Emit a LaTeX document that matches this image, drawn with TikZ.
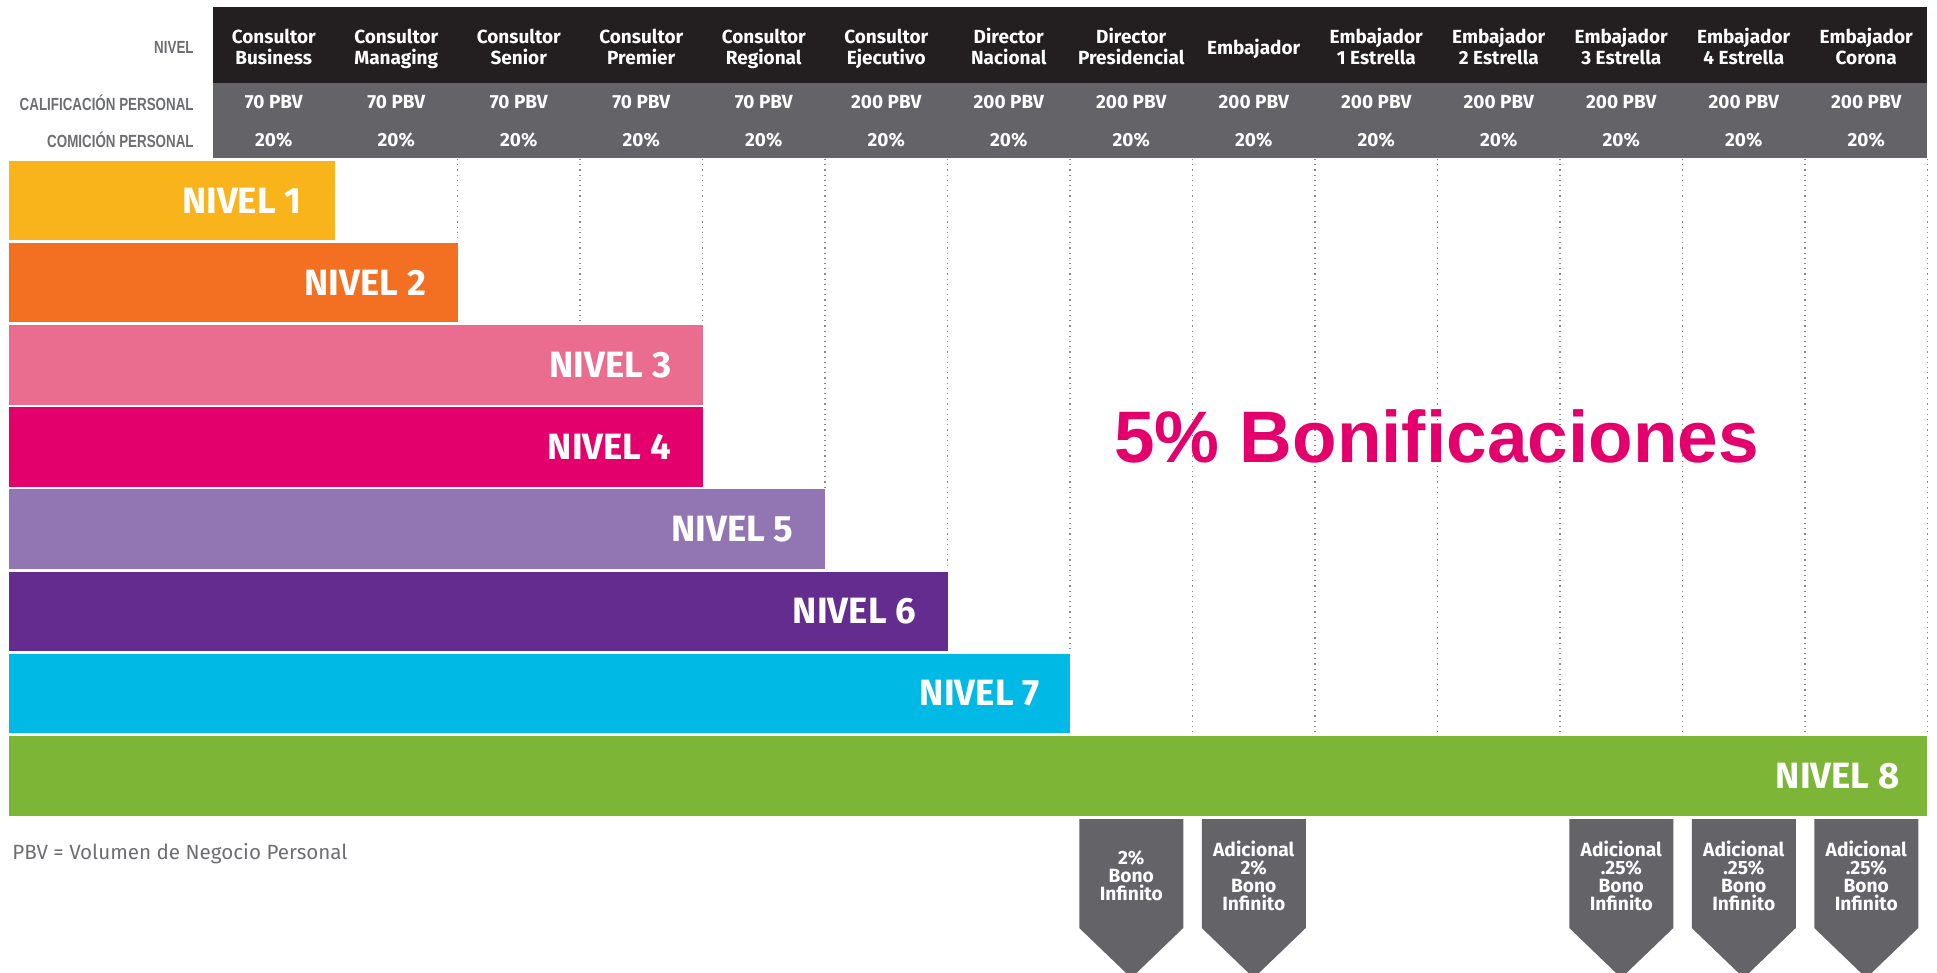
\documentclass[tikz,border=0pt]{standalone}
\usepackage{fontspec}
\setmainfont{Fira Sans}
\newfontfamily\condfont{Liberation Sans}[FakeStretch=0.76]
\newfontfamily\bigfont{Liberation Sans}
\definecolor{hdark}{HTML}{231F20}
\definecolor{hgray}{HTML}{636368}
\definecolor{lblgray}{HTML}{6D6E71}
\definecolor{cA}{HTML}{F9B31B}
\definecolor{cB}{HTML}{F37022}
\definecolor{cC}{HTML}{EA6D8F}
\definecolor{cD}{HTML}{E3006C}
\definecolor{cE}{HTML}{9276B3}
\definecolor{cF}{HTML}{652C90}
\definecolor{cG}{HTML}{00B9E5}
\definecolor{cH}{HTML}{7DB537}
\definecolor{grid}{HTML}{8A8A8A}
\tikzset{
  hdrtext/.style={text=white,font=\bfseries\fontsize{9.5}{10.5}\selectfont,align=center,inner sep=0pt},
  rowlabel/.style={text=lblgray,font=\condfont\bfseries\fontsize{8.8}{10}\selectfont,anchor=east,inner sep=0pt},
  barlabel/.style={text=white,font=\bfseries\fontsize{18.3}{19}\selectfont,anchor=east,inner sep=0pt},
  badgetext/.style={text=white,font=\bfseries\fontsize{9.6}{9.1}\selectfont,align=center,inner sep=0pt},
  gridline/.style={grid,dotted,line width=0.6pt},
}
\begin{document}
\begin{tikzpicture}[x=0.5pt,y=-0.5pt]
\useasboundingbox (0,0) rectangle (1937,973);
% header backgrounds
\fill[hdark] (212.5,7.4) rectangle (1927,82.7);
\fill[hgray] (212.5,82.7) rectangle (1927,158.3);
% row labels
\node[rowlabel] (lnivel) at (194,47) {NIVEL};
\node[rowlabel] (lcalif) at (194,102.5) {CALIFICACIÓN PERSONAL};
\node[rowlabel] (lcomi) at (194,139.6) {COMICIÓN PERSONAL};
% header columns
\foreach \t [count=\i] in {{Consultor\\Business},{Consultor\\Managing},{Consultor\\Senior},{Consultor\\Premier},{Consultor\\Regional},{Consultor\\Ejecutivo},{Director\\Nacional},{Director\\Presidencial},{Embajador},{Embajador\\1 Estrella},{Embajador\\2 Estrella},{Embajador\\3 Estrella},{Embajador\\4 Estrella},{Embajador\\Corona}}{
  \pgfmathsetmacro{\cx}{212.5+(\i-0.5)*122.5}
  \node[hdrtext] (h\i) at (\cx,48.5) {\t\vphantom{g}};
}
\foreach \i in {1,...,14}{
  \pgfmathsetmacro{\cx}{212.5+(\i-0.5)*122.5}
  \pgfmathtruncatemacro{\pbv}{\i<6 ? 70 : 200}
  \node[hdrtext] (p\i) at (\cx,102.5) {\pbv{} PBV};
  \node[hdrtext] (c\i) at (\cx,139.6) {20\%};
}
% dotted grid lines (each stops just above the first bar reaching it)
\foreach \j/\s in {2/241,3/323,4/323,5/487,6/569,7/651,8/734,9/734,10/734,11/734,12/734,13/734,14/734}{
  \pgfmathsetmacro{\gx}{212.5+\j*122.5}
  \draw[gridline] (\gx,159) -- (\gx,\s);
}
% bars
\foreach \i/\r/\c/\p in {1/335/cA/33,2/457.5/cB/31,3/702.5/cC/31,4/702.5/cD/31,5/825/cE/31,6/947.5/cF/31,7/1070/cG/30,8/1927/cH/27}{
  \pgfmathsetmacro{\bt}{160.6+(\i-1)*82.2}
  \pgfmathsetmacro{\bb}{\bt+79.6}
  \pgfmathsetmacro{\bm}{\bt+39.8}
  \pgfmathsetmacro{\lx}{\r-\p}
  \fill[\c] (8.6,\bt) rectangle (\r,\bb);
  \node[barlabel] (n\i) at (\lx,\bm) {NIVEL \i};
}
% big text
\node[text=cD,font=\bigfont\bfseries\fontsize{36.5}{40}\selectfont,inner sep=0pt] (bono) at (1436.5,436) {5\% Bonificaciones};
% footnote
\node[text=lblgray,font=\fontsize{10.3}{12}\selectfont,anchor=west,inner sep=0pt] (pbv) at (12,853.5) {PBV = Volumen de Negocio Personal};
% badges
\foreach \k/\t in {8/{2\%\\Bono\\Infinito},9/{Adicional\\2\%\\Bono\\Infinito},12/{Adicional\\.25\%\\Bono\\Infinito},13/{Adicional\\.25\%\\Bono\\Infinito},14/{Adicional\\.25\%\\Bono\\Infinito}}{
  \pgfmathsetmacro{\cx}{212.5+(\k-0.5)*122.5}
  \fill[hgray] (\cx-52,819) -- (\cx+52,819) -- (\cx+52,928) -- (\cx,978) -- (\cx-52,928) -- cycle;
  \node[badgetext] (b\k) at (\cx,876) {\t};
}
\end{tikzpicture}
\end{document}
